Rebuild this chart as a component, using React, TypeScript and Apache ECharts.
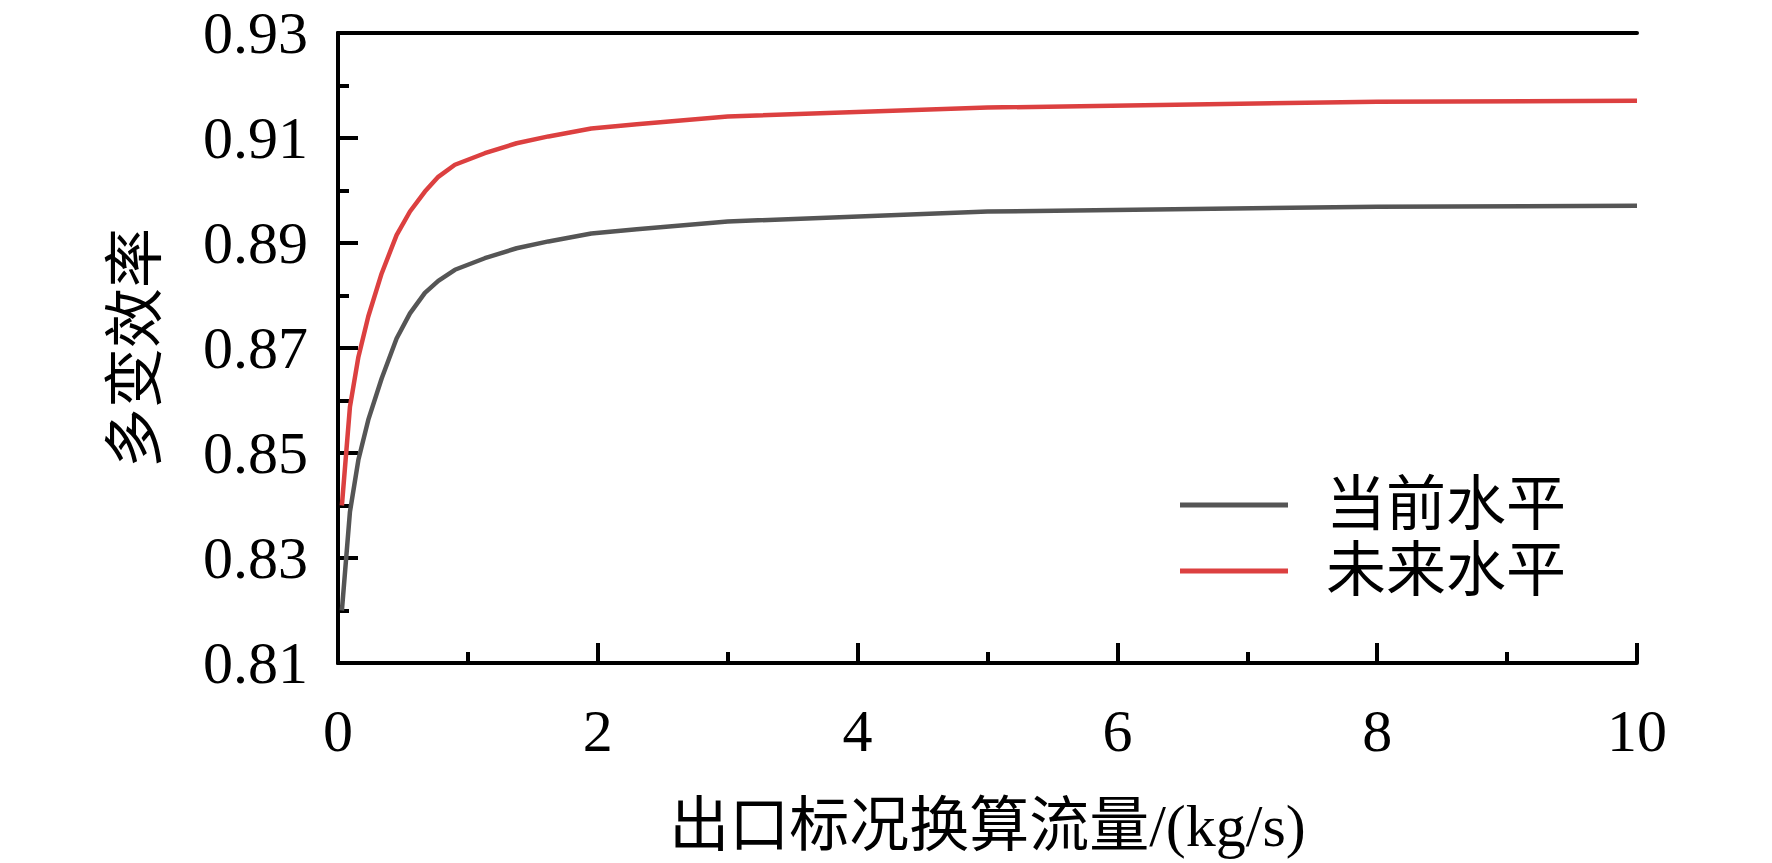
import React, { useEffect, useRef } from "react";
import * as echarts from "echarts";

const seriesNames = ["当前水平", "未来水平"];
const flowX = [0.03, 0.092, 0.157, 0.233, 0.336, 0.451, 0.554, 0.669, 0.772, 0.9, 1.13, 1.375, 1.62, 1.95, 2.3, 3, 5, 8, 10];
const currentY = [0.82, 0.8388, 0.8487, 0.8563, 0.8642, 0.8718, 0.8766, 0.8805, 0.8828, 0.8849, 0.8871, 0.889, 0.8903, 0.8918, 0.8926, 0.8941, 0.896, 0.8969, 0.8971];
const futureY = [0.84, 0.8588, 0.8683, 0.876, 0.8842, 0.8915, 0.896, 0.8998, 0.9026, 0.9049, 0.9071, 0.909, 0.9103, 0.9118, 0.9126, 0.9141, 0.9158, 0.9169, 0.9171];
const xName = "出口标况换算流量/(kg/s)";
const yName = "多变效率";

const FONT = "'Liberation Serif', 'Times New Roman', 'Noto Sans CJK SC', serif";

export default function App() {
  const ref = useRef<HTMLDivElement>(null);
  useEffect(() => {
    if (!ref.current) return;
    const chart = echarts.init(ref.current, null, { renderer: "svg" });
    const axisLine = { show: true, lineStyle: { color: "#000", width: 4 } };
    chart.setOption({
      animation: false,
      backgroundColor: "#fff",
      grid: { left: 338, top: 33, width: 1299, height: 630, containLabel: false },
      legend: {
        orient: "vertical",
        left: 1175,
        top: 470,
        icon: "rect",
        itemWidth: 108,
        itemHeight: 5,
        itemGap: 6,
        textStyle: { fontFamily: FONT, fontSize: 60, color: "#000", padding: [0, 0, 0, 33] },
        data: seriesNames,
      },
      xAxis: [
        {
          type: "value",
          min: 0,
          max: 10,
          interval: 2,
          position: "bottom",
          name: xName,
          nameLocation: "middle",
          nameGap: 133,
          nameTextStyle: { fontFamily: FONT, fontSize: 60, color: "#000" },
          axisLine,
          axisTick: { show: true, inside: true, length: 20, lineStyle: { color: "#000", width: 4 } },
          minorTick: { show: true, splitNumber: 2, length: 11, lineStyle: { color: "#000", width: 4 } },
          axisLabel: { fontFamily: FONT, fontSize: 60, color: "#000", margin: 38 },
          splitLine: { show: false },
        },
        {
          type: "value",
          min: 0,
          max: 10,
          position: "top",
          axisLine,
          axisTick: { show: false },
          axisLabel: { show: false },
          splitLine: { show: false },
        },
      ],
      yAxis: [
        {
          type: "value",
          min: 0.81,
          max: 0.93,
          interval: 0.02,
          position: "left",
          name: yName,
          nameLocation: "middle",
          nameRotate: 90,
          nameGap: 172,
          nameTextStyle: { fontFamily: FONT, fontSize: 60, color: "#000" },
          axisLine,
          axisTick: { show: true, inside: true, length: 20, lineStyle: { color: "#000", width: 4 } },
          minorTick: { show: true, splitNumber: 2, length: 11, lineStyle: { color: "#000", width: 4 } },
          axisLabel: {
            fontFamily: FONT,
            fontSize: 60,
            color: "#000",
            margin: 30,
            formatter: (v: number) => v.toFixed(2),
          },
          splitLine: { show: false },
        },
        {
          type: "value",
          min: 0.81,
          max: 0.93,
          position: "right",
          axisLine,
          axisTick: { show: false },
          axisLabel: { show: false },
          splitLine: { show: false },
        },
      ],
      series: [
        {
          name: seriesNames[0],
          type: "line",
          symbol: "none",
          lineStyle: { color: "#555555", width: 4.5 },
          itemStyle: { color: "#555555" },
          data: flowX.map((x, i) => [x, currentY[i]]),
        },
        {
          name: seriesNames[1],
          type: "line",
          symbol: "none",
          lineStyle: { color: "#dc4040", width: 4.5 },
          itemStyle: { color: "#dc4040" },
          data: flowX.map((x, i) => [x, futureY[i]]),
        },
      ],
    });
    return () => chart.dispose();
  }, []);
  return (
    <div
      ref={ref}
      style={{ position: "absolute", left: 0, top: 0, width: 1772, height: 863, background: "#fff" }}
    />
  );
}
